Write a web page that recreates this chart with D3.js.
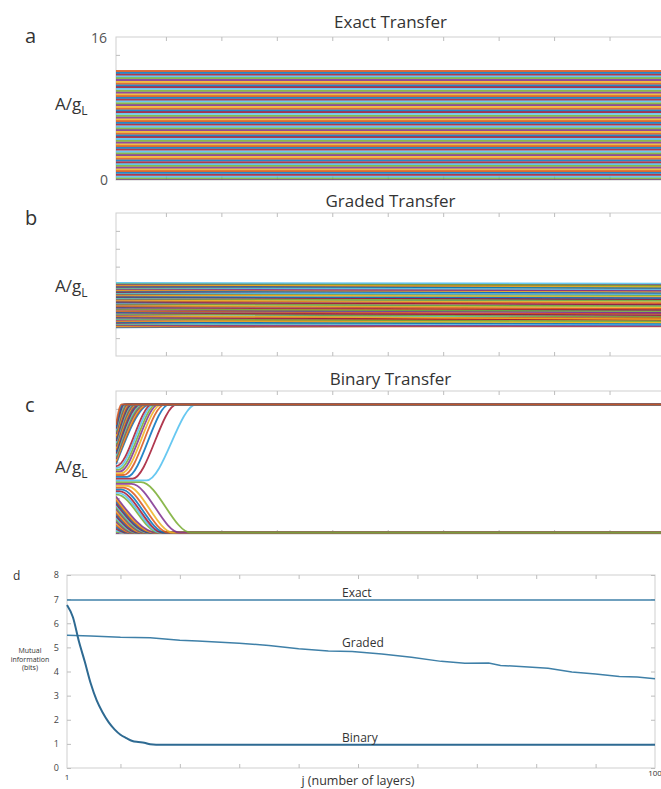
<!DOCTYPE html>
<html lang="en">
	<head>
		<meta charset="utf-8">
		<title>Transfer across layers</title>
		<script type="text/javascript" src="https://cdn.jsdelivr.net/npm/d3@7/dist/d3.min.js"></script>
		<style type="text/css">
			body { margin: 0; background: #fff; }
			text { font-family: "Open Sans", "Noto Sans", sans-serif; fill: #333; }
		</style>
	</head>
	<body>
		<script type="text/javascript">
			//Width and height
			var w = 661;
			var h = 789;

			//Layers shown on every x axis
			var layerRange = [1, 100];
			var layerTicks = [10, 20, 30, 40, 50, 60, 70, 80, 90];
			var levelTicks = [2, 4, 6, 8, 10, 12, 14];

			//Panel a: input levels, carried unchanged through every layer
			var exactLevels = [0.0, 0.2, 0.4, 0.6, 0.8, 1.0, 1.2, 1.4, 1.6, 1.8,
				2.0, 2.2, 2.4, 2.6, 2.8, 3.0, 3.2, 3.4, 3.6, 3.8,
				4.0, 4.2, 4.4, 4.6, 4.8, 5.0, 5.2, 5.4, 5.6, 5.8,
				6.0, 6.2, 6.4, 6.6, 6.8, 7.0, 7.2, 7.4, 7.6, 7.8,
				8.0, 8.2, 8.4, 8.6, 8.8, 9.0, 9.2, 9.4, 9.6, 9.8,
				10.0, 10.2, 10.4, 10.6, 10.8, 11.0, 11.2, 11.4, 11.6, 11.8,
				12.0, 12.2];

			//Panel b: level at layer 1 and at layer 100
			var gradedStart = [3.20, 3.28, 3.36, 3.45, 3.53, 3.61, 3.69, 3.77, 3.86, 3.94,
				4.02, 4.10, 4.18, 4.27, 4.35, 4.43, 4.51, 4.59, 4.68, 4.76,
				4.84, 4.92, 5.00, 5.09, 5.17, 5.25, 5.33, 5.41, 5.50, 5.58,
				5.66, 5.74, 5.82, 5.91, 5.99, 6.07, 6.15, 6.23, 6.32, 6.40,
				6.48, 6.56, 6.64, 6.73, 6.81, 6.89, 6.97, 7.05, 7.14, 7.22,
				7.30, 7.38, 7.46, 7.55, 7.63, 7.71, 7.79, 7.87, 7.96, 8.04,
				8.12, 8.20];
			var gradedEnd = [3.45, 3.30, 3.80, 3.35, 3.95, 3.50, 4.20, 3.60, 4.30, 3.75,
				4.45, 3.90, 4.60, 4.05, 4.75, 4.20, 4.10, 4.85, 4.40, 5.05,
				4.55, 5.20, 4.70, 5.35, 4.85, 5.00, 5.60, 5.15, 5.75, 5.30,
				5.45, 6.00, 5.60, 6.15, 5.75, 6.35, 5.90, 6.05, 6.55, 6.20,
				6.75, 6.35, 6.50, 6.95, 6.65, 7.15, 6.80, 6.90, 7.35, 7.05,
				7.55, 7.20, 7.30, 7.70, 7.45, 7.85, 7.60, 7.95, 7.75, 8.00,
				7.90, 8.10];

			//Panel c: same inputs as panel a; layer where each one leaves its start, and where it settles
			var binaryHold = [1, 1, 1, 1, 1, 1, 1, 1, 1, 1,
				1, 1, 1, 1, 1, 1, 1, 1, 1, 1,
				1, 1, 1.2, 1.4, 1.6, 1.9, 2.3, 2.9, 3.8, 5.5,
				6.5, 4.0, 3.0, 2.4, 2.0, 1.7, 1.5, 1.3, 1.1, 1,
				1, 1, 1, 1, 1, 1, 1, 1, 1, 1,
				1, 1, 1, 1, 1, 1, 1, 1, 1, 1,
				1, 1];
			var binarySettle = [2.0, 2.3, 2.6, 2.9, 3.2, 3.5, 3.8, 4.1, 4.4, 4.7,
				5.0, 5.3, 5.6, 5.9, 6.2, 6.5, 6.8, 7.1, 7.4, 7.7,
				8.0, 8.4, 8.7, 9.0, 9.4, 9.9, 10.5, 11.3, 12.5, 14.5,
				15.5, 12.0, 10.6, 9.8, 9.2, 8.7, 8.3, 7.9, 7.5, 7.2,
				6.9, 6.6, 6.3, 6.0, 5.7, 5.4, 5.1, 4.9, 4.7, 4.5,
				4.3, 4.1, 3.9, 3.7, 3.5, 3.3, 3.1, 2.9, 2.7, 2.5,
				2.3, 2.0];
			var binaryThreshold = 5.9;
			var binaryHigh = 14.5;
			var binaryLow = 0.15;

			//Panel d: mutual information (bits) by layer
			var miExactLayers = [1, 100];
			var miExact = [6.96, 6.96];
			var miGradedLayers = [1, 5, 10, 15, 20, 23, 30, 35, 40, 45, 49, 54, 59, 64, 68, 72, 74, 78, 82, 86, 90, 94, 97, 100];
			var miGraded = [5.50, 5.47, 5.42, 5.40, 5.30, 5.26, 5.17, 5.08, 4.94, 4.85, 4.83, 4.73, 4.59, 4.42, 4.34, 4.35, 4.25, 4.20, 4.13, 3.98, 3.90, 3.79, 3.77, 3.70];
			var miBinaryLayers = [1, 2, 3, 4, 5, 6, 7, 8, 9, 10, 11, 12, 13, 14, 15, 16, 100];
			var miBinary = [6.76, 6.25, 5.25, 4.40, 3.50, 2.80, 2.30, 1.90, 1.60, 1.38, 1.24, 1.12, 1.08, 1.05, 0.98, 0.96, 0.96];
			var miTicks = [0, 1, 2, 3, 4, 5, 6, 7, 8];

			var lineColors = ["#0072BD", "#D95319", "#EDB120", "#7E2F8E", "#77AC30", "#4DBEEE", "#A2142F"];

			//Create SVG element
			var svg = d3.select("body")
						.append("svg")
						.attr("width", w)
						.attr("height", h);

			//softening, like the scanned figure
			svg.append("defs")
				.append("filter")
				.attr("id", "soft")
				.append("feGaussianBlur")
				.attr("stdDeviation", 0.75);

			var x = d3.scaleLinear()
						.domain(layerRange)
						.range([116, 665]);

			var panels = [
				{ id: "a", title: "Exact Transfer", top: 37, letterY: 43, titleY: 28, labelY: 110, colorOffset: 3 },
				{ id: "b", title: "Graded Transfer", top: 213, letterY: 225, titleY: 207, labelY: 292, colorOffset: 0 },
				{ id: "c", title: "Binary Transfer", top: 391, letterY: 412, titleY: 385, labelY: 473, colorOffset: 3 }
			];

			var line = d3.line()
						.x(function(d) { return x(d[0]); })
						.y(function(d) { return d[1]; });

			panels.forEach(function(p) {
				var bottom = p.top + 143;
				var y = d3.scaleLinear().domain([0, 16]).range([bottom, p.top]);
				p.y = y;
				p.color = function(v, i) { return lineColors[(i + p.colorOffset) % 7]; };

				var g = svg.append("g");

				svg.append("clipPath")
					.attr("id", "clip-" + p.id)
					.append("rect")
					.attr("x", x(1))
					.attr("y", p.top)
					.attr("width", x(100) - x(1))
					.attr("height", 143);

				//box
				g.append("rect")
					.attr("x", x(1))
					.attr("y", p.top)
					.attr("width", x(100) - x(1))
					.attr("height", 143)
					.style("fill", "none")
					.style("stroke", "#cfcfcf");

				//inward ticks
				g.append("g")
					.attr("transform", "translate(0," + p.top + ")")
					.call(d3.axisTop(x).tickValues(layerTicks).tickSize(-4).tickFormat(""));
				g.append("g")
					.attr("transform", "translate(0," + bottom + ")")
					.call(d3.axisBottom(x).tickValues(layerTicks).tickSize(-4).tickFormat(""));
				g.append("g")
					.attr("transform", "translate(" + x(1) + ",0)")
					.call(d3.axisLeft(y).tickValues(levelTicks).tickSize(-4).tickFormat(""));
				g.append("g")
					.attr("transform", "translate(" + x(100) + ",0)")
					.call(d3.axisRight(y).tickValues(levelTicks).tickSize(-4).tickFormat(""));
				g.selectAll(".domain").remove();
				g.selectAll(".tick line").style("stroke", "#bdbdbd");

				//letter, title, y label
				svg.append("text")
					.attr("x", 25)
					.attr("y", p.letterY)
					.style("font-size", "20px")
					.text(p.id);
				svg.append("text")
					.attr("x", (x(1) + x(100)) / 2)
					.attr("y", p.titleY)
					.attr("text-anchor", "middle")
					.style("font-size", "17px")
					.text(p.title);
				var lab = svg.append("text")
					.attr("x", 55)
					.attr("y", p.labelY)
					.style("font-size", "17px")
					.text("A/g");
				lab.append("tspan")
					.attr("dy", 5)
					.style("font-size", "12px")
					.text("L");

				p.lines = svg.append("g")
					.attr("clip-path", "url(#clip-" + p.id + ")")
					.append("g")
					.attr("filter", "url(#soft)");
			});

			//a: flat levels
			var pa = panels[0];
			pa.lines.selectAll("path")
				.data(exactLevels)
				.enter()
				.append("path")
				.attr("d", function(v) { return line([[1, pa.y(v)], [100, pa.y(v)]]); })
				.style("fill", "none")
				.style("stroke", pa.color)
				.style("stroke-width", 2)
				.style("opacity", 0.85);

			svg.append("text").attr("x", 107).attr("y", 43).attr("text-anchor", "end")
				.style("font-size", "14px").style("fill", "#555").text("16");
			svg.append("text").attr("x", 108).attr("y", 185).attr("text-anchor", "end")
				.style("font-size", "14px").style("fill", "#555").text("0");

			//b: slow drift between layer 1 and layer 100
			var pb = panels[1];
			pb.lines.selectAll("path")
				.data(gradedStart)
				.enter()
				.append("path")
				.attr("d", function(v, i) { return line([[1, pb.y(v)], [100, pb.y(gradedEnd[i])]]); })
				.style("fill", "none")
				.style("stroke", pb.color)
				.style("stroke-width", 1.5)
				.style("opacity", 0.85);

			//c: every level is pushed to one of two states
			var pc = panels[2];
			var binLine = d3.line()
						.x(function(d) { return x(d[0]); })
						.y(function(d) { return pc.y(d[1]); })
						.curve(d3.curveMonotoneX);
			pc.lines.selectAll("path")
				.data(exactLevels)
				.enter()
				.append("path")
				.attr("d", function(v, i) {
					var target = v > binaryThreshold ? binaryHigh : binaryLow;
					var pts = [[1, v]];
					if (binaryHold[i] > 1) pts.push([binaryHold[i], v]);
					pts.push([binarySettle[i], target]);
					pts.push([100, target]);
					return binLine(pts);
				})
				.style("fill", "none")
				.style("stroke", pc.color)
				.style("stroke-width", 1.8)
				.style("opacity", 0.85);

			//d: mutual information
			var xd = d3.scaleLinear().domain(layerRange).range([67, 655]);
			var yd = d3.scaleLinear().domain([0, 8]).range([768, 575]);
			var gd = svg.append("g");

			gd.append("rect")
				.attr("x", xd(1))
				.attr("y", yd(8))
				.attr("width", xd(100) - xd(1))
				.attr("height", yd(0) - yd(8))
				.style("fill", "none")
				.style("stroke", "#cfcfcf");
			gd.append("g")
				.attr("transform", "translate(0," + yd(8) + ")")
				.call(d3.axisTop(xd).tickValues(layerTicks).tickSize(-4).tickFormat(""));
			gd.append("g")
				.attr("transform", "translate(0," + yd(0) + ")")
				.call(d3.axisBottom(xd).tickValues(layerTicks).tickSize(-4).tickFormat(""));
			gd.append("g")
				.attr("class", "yleft")
				.attr("transform", "translate(" + xd(1) + ",0)")
				.call(d3.axisLeft(yd).tickValues(miTicks).tickSize(-4).tickPadding(8).tickFormat(d3.format("d")));
			gd.append("g")
				.attr("transform", "translate(" + xd(100) + ",0)")
				.call(d3.axisRight(yd).tickValues(miTicks).tickSize(-4).tickFormat(""));
			gd.selectAll(".domain").remove();
			gd.selectAll(".tick line").style("stroke", "#bdbdbd");
			gd.selectAll(".yleft text")
				.style("font-size", "9px")
				.style("font-family", "'Open Sans', sans-serif")
				.style("fill", "#444");

			//x labels
			svg.append("text").attr("x", xd(1)).attr("y", 780).attr("text-anchor", "middle")
				.style("font-size", "8px").text("1");
			svg.append("text").attr("x", xd(100)).attr("y", 776).attr("text-anchor", "middle")
				.style("font-size", "8px").text("100");
			svg.append("text").attr("x", 358).attr("y", 785).attr("text-anchor", "middle")
				.style("font-size", "12.5px").text("j (number of layers)");

			var ylab = svg.append("text")
				.attr("text-anchor", "middle")
				.style("font-size", "7px");
			["Mutual", "information", "(bits)"].forEach(function(s, i) {
				ylab.append("tspan").attr("x", 30).attr("y", 653 + i * 8.5).text(s);
			});
			svg.append("text").attr("x", 13).attr("y", 580).style("font-size", "12px").text("d");

			var miLine = d3.line()
						.x(function(d) { return xd(d[0]); })
						.y(function(d) { return yd(d[1]); });

			var series = [
				{ name: "Exact", layers: miExactLayers, values: miExact, width: 1.5, color: "#3f80a8", curve: d3.curveLinear, ly: 597 },
				{ name: "Graded", layers: miGradedLayers, values: miGraded, width: 1.5, color: "#3f80a8", curve: d3.curveLinear, ly: 647 },
				{ name: "Binary", layers: miBinaryLayers, values: miBinary, width: 2, color: "#2e6a92", curve: d3.curveMonotoneX, ly: 742 }
			];

			series.forEach(function(s) {
				gd.append("path")
					.attr("d", miLine.curve(s.curve)(s.layers.map(function(l, i) { return [l, s.values[i]]; })))
					.style("fill", "none")
					.style("stroke", s.color)
					.style("stroke-width", s.width);
				svg.append("text")
					.attr("x", 342)
					.attr("y", s.ly)
					.style("font-size", "12px")
					.text(s.name);
			});
		</script>
	</body>
</html>
